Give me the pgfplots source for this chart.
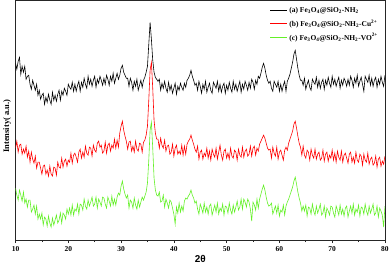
\documentclass[border=0pt]{standalone}
\usepackage{fontspec}
\setmainfont{Liberation Serif}
\newfontfamily\arialf{Liberation Sans}
\usepackage{pgfplots}
\usepackage{pgfplotstable}
\pgfplotsset{compat=1.18}
\definecolor{xgreen}{RGB}{100,240,40}
\pgfplotstableread{
x a b c
10.00 177 92 52
10.25 171 99 45
10.50 179 88 40
10.75 183 95 50
11.00 166 96 45
11.25 174 86 39
11.50 168 91 48
11.75 174 87 37
12.00 161 94 41
12.25 164 83 33
12.50 165 89 40
12.75 156 78 40
13.00 151 88 28
13.25 160 81 31
13.50 155 77 35
13.75 150 84 26
14.00 156 72 34
14.25 145 78 21
14.50 150 78 26
14.75 141 72 21
15.00 145 66 27
15.25 147 74 15
15.50 136 75 23
15.75 143 66 21
16.00 138 70 14
16.25 146 64 24
16.50 140 74 17
16.75 136 66 13
17.00 148 64 22
17.25 140 73 15
17.50 145 72 20
17.75 139 65 25
18.00 146 78 17
18.25 150 73 20
18.50 140 72 27
18.75 149 82 17
19.00 145 73 27
19.25 152 79 25
19.50 149 81 21
19.75 145 74 31
20.00 156 80 26
20.25 153 78 32
20.50 151 87 25
20.75 158 77 35
21.00 149 85 25
21.25 156 87 31
21.50 149 83 29
21.75 155 78 36
22.00 159 88 26
22.25 149 91 36
22.50 158 82 35
22.75 153 88 30
23.00 162 83 41
23.25 156 94 34
23.50 152 87 31
23.75 164 85 40
24.00 156 93 34
24.25 161 92 38
24.50 154 84 43
24.75 160 95 34
25.00 164 90 36
25.25 153 88 43
25.50 161 97 32
25.75 157 99 41
26.00 164 93 38
26.25 160 95 34
26.50 155 87 43
26.75 162 89 42
27.00 156 98 36
27.25 165 87 32
27.50 161 95 43
27.75 155 97 39
28.00 164 89 34
28.25 159 95 44
28.50 167 92 35
28.75 157 101 41
29.00 162 92 35
29.25 167 100 43
29.50 161 93 47
29.75 165 107 45
30.00 172 114 54
30.25 175 119 59
30.50 168 110 51
30.75 165 104 46
31.00 162 99 42
31.25 162 91 45
31.50 154 98 32
31.75 162 99 40
32.00 158 89 38
32.25 150 94 32
32.50 159 88 42
32.75 154 99 35
33.00 161 91 31
33.25 150 89 40
33.50 155 97 33
33.75 160 96 38
34.00 153 88 43
34.25 160 98 40
34.50 163 100 44
34.75 168 105 48
35.00 174 114 57
35.25 196 140 80
35.50 218 170 110
35.75 201 178 118
36.00 180 152 92
36.25 168 120 62
36.50 163 107 50
36.75 161 101 45
37.00 159 101 44
37.25 161 92 48
37.50 150 102 38
37.75 157 95 39
38.00 152 92 45
38.25 159 100 33
38.50 152 89 41
38.75 148 94 37
39.00 158 95 32
39.25 150 86 40
39.50 155 88 38
39.75 147 96 32
40.00 152 84 26
40.25 157 92 16
40.50 146 95 33
40.75 154 86 27
41.00 150 89 37
41.25 157 86 28
41.50 153 95 34
41.75 150 85 29
42.00 157 94 39
42.25 153 86 42
42.50 160 96 41
42.75 162 99 44
43.00 165 101 46
43.25 170 105 50
43.50 164 100 45
43.75 160 96 42
44.00 155 91 37
44.25 157 88 39
44.50 150 94 31
44.75 159 81 26
45.00 154 88 36
45.25 147 90 32
45.50 156 81 27
45.75 151 87 37
46.00 159 84 28
46.25 148 92 33
46.50 153 82 26
46.75 157 89 34
47.00 150 80 36
47.25 147 91 25
47.50 158 86 30
47.75 155 83 35
48.00 152 92 28
48.25 159 81 37
48.50 149 88 26
48.75 156 95 32
49.00 148 85 29
49.25 154 80 36
49.50 157 89 25
49.75 147 91 34
50.00 155 82 33
50.25 150 87 27
50.50 158 81 37
50.75 152 92 30
51.00 148 84 26
51.25 159 82 35
51.50 151 90 28
51.75 156 88 33
52.00 149 80 39
52.25 154 91 30
52.50 159 85 33
52.75 148 83 41
53.00 156 93 31
53.25 151 83 41
53.50 159 89 38
53.75 155 91 33
54.00 150 84 41
54.25 158 86 38
54.50 152 94 31
54.75 161 84 19
55.00 158 92 38
55.25 151 94 35
55.50 160 85 30
55.75 156 92 41
56.00 164 89 32
56.25 162 96 41
56.50 167 99 46
56.75 173 102 51
57.00 177 105 55
57.25 172 102 50
57.50 165 97 43
57.75 160 92 37
58.00 157 90 34
58.25 159 91 35
58.50 152 82 37
58.75 149 93 26
59.00 159 87 30
59.25 156 84 34
59.50 153 93 27
59.75 159 81 35
60.00 149 88 24
60.25 156 90 30
60.50 149 85 28
60.75 155 80 35
61.00 159 90 25
61.25 149 93 34
61.50 159 90 38
61.75 162 97 41
62.00 166 101 45
62.25 172 105 49
62.50 178 109 53
62.75 186 116 59
63.00 190 119 63
63.25 181 112 56
63.50 172 104 48
63.75 165 97 42
64.00 160 93 37
64.25 160 85 29
64.50 155 94 34
64.75 162 85 29
65.00 151 82 35
65.25 156 90 24
65.50 160 88 33
65.75 153 80 32
66.00 150 91 26
66.25 161 85 36
66.50 158 82 29
66.75 156 91 25
67.00 163 81 34
67.25 153 86 27
67.50 160 88 31
67.75 152 80 36
68.00 158 82 25
68.25 161 90 27
68.50 151 79 34
68.75 160 86 23
69.00 155 88 32
69.25 163 79 29
69.50 157 85 25
69.75 153 82 34
70.00 164 90 33
70.25 156 80 27
70.50 161 87 23
70.75 154 78 34
71.00 159 89 30
71.25 163 83 25
71.50 152 80 35
71.75 160 89 26
72.00 155 78 31
72.25 162 85 24
72.50 159 87 32
72.75 154 82 34
73.00 161 77 23
73.25 155 86 29
73.50 164 88 34
73.75 160 78 27
74.00 153 83 36
74.25 162 77 25
74.50 157 88 31
74.75 165 80 28
75.00 154 78 35
75.25 159 86 24
75.50 163 84 33
75.75 156 75 32
76.00 149 86 26
76.25 164 80 36
76.50 161 78 29
76.75 158 87 25
77.00 165 76 34
77.25 155 81 27
77.50 162 83 31
77.75 154 75 36
78.00 160 77 25
78.25 163 84 27
78.50 153 73 34
78.75 161 81 23
79.00 156 83 32
79.25 164 74 29
79.50 158 79 25
79.75 154 76 13
80.00 165 84 34
}\xrd
\begin{document}
\begin{tikzpicture}
\begin{axis}[
  scale only axis,
  width=370bp, height=240bp,
  xmin=10, xmax=80, ymin=0, ymax=240,
  xtick={10,20,...,80}, minor x tick num=1,
  xtick pos=bottom, ytick=\empty,
  tick align=outside,
  major tick length=3bp, minor tick length=2bp,
  /pgf/number format/assume math mode=true,
  xticklabel style={font=\bfseries\fontsize{7.5}{8}\selectfont},
  axis line style={line width=0.8pt, black!85},
  every tick/.style={black!85, line width=0.6pt},
  xlabel={\arialf\bfseries 2θ},
  xlabel style={font=\fontsize{10}{11}\selectfont, yshift=3bp},
  ylabel={\bfseries Intensity( a.u.)},
  ylabel style={font=\fontsize{8.5}{9}\selectfont, yshift=-2bp, xshift=-6bp},
  legend style={draw=none, fill=none, at={(0.995,0.99)}, anchor=north east,
    font=\bfseries\fontsize{7.5}{9}\selectfont, row sep=2bp},
  legend cell align=left,
  legend image post style={line width=0.8pt},
]
\addplot[black, line width=0.6pt] table[x=x,y=a]{\xrd};
\addlegendentry{(a) Fe\textsubscript{3}O\textsubscript{4}@SiO\textsubscript{2}-NH\textsubscript{2}}
\addplot[red, line width=0.6pt] table[x=x,y=b]{\xrd};
\addlegendentry{(b) Fe\textsubscript{3}O\textsubscript{4}@SiO\textsubscript{2}-NH\textsubscript{2}-Cu\textsuperscript{2+}}
\addplot[xgreen, line width=0.6pt] table[x=x,y=c]{\xrd};
\addlegendentry{(c) Fe\textsubscript{3}O\textsubscript{4}@SiO\textsubscript{2}-NH\textsubscript{2}-VO\textsuperscript{2+}}
\end{axis}
\end{tikzpicture}
\end{document}
